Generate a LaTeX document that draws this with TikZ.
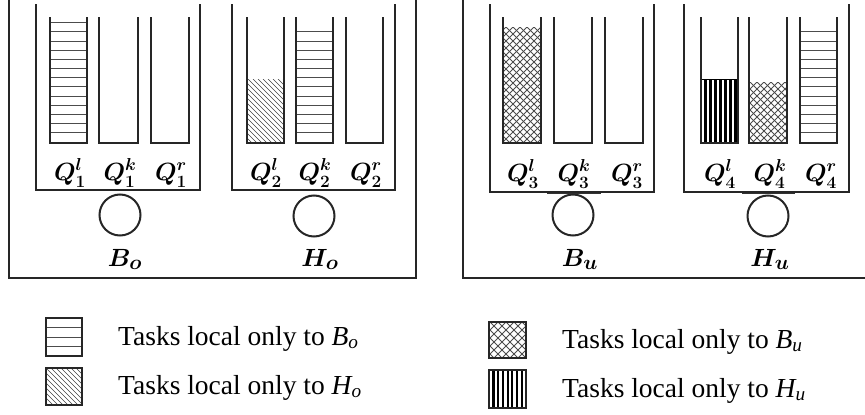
\documentclass[tikz,border=0pt]{standalone}
\usepackage{amsmath}
\usepackage{fontspec}
\setmainfont{Liberation Serif}
\newcommand{\drawqueue}[2]{\draw[wall] (#1,17) -- (#1,143) -- (#2,143) -- (#2,17);}
\newcommand{\hlinesfill}[4]{% x1 x2 first-y count
  \foreach \k in {1,...,#4} {\draw[hline] (#1,{#3+(\k-1)*9.17}) -- (#2,{#3+(\k-1)*9.17});}}
\begin{document}
\begin{tikzpicture}[x=1pt,y=-1pt,
  wall/.style={line width=2pt, draw=black!85},
  frame/.style={line width=2.3pt, draw=black!85},
  qlab/.style={font=\fontsize{25}{27}\selectfont\boldmath, inner sep=0pt, anchor=base},
  plab/.style={font=\fontsize{29}{31}\selectfont\boldmath, inner sep=0pt, anchor=base},
  proc/.style={circle, draw=black!85, line width=2pt, minimum size=41pt, inner sep=0pt},
  legtext/.style={font=\fontsize{27.5}{30}\selectfont, anchor=base west, inner sep=0pt},
  legbox/.style={line width=2.8pt, draw=black!85},
  hline/.style={line width=1pt, draw=black!70},
  dline/.style={line width=0.7pt, draw=black!75},
  xline/.style={line width=0.9pt, draw=black!70},
  vline/.style={line width=2.2pt, draw=black}]
\useasboundingbox (0,0) rectangle (865,415);
\clip (0,0) rectangle (865,415);

% outer frames
\draw[frame] (9,-10) -- (9,278) -- (416,278) -- (416,-10);
\draw[frame] (463,-10) -- (463,278) -- (880,278);

% inner group boxes
\draw[wall] (36,4) -- (36,190) -- (200,190) -- (200,4);
\draw[wall] (232,4) -- (232,190) -- (395,190) -- (395,4);
\draw[wall] (490,4) -- (490,192) -- (654,192) -- (654,4);
\draw[wall] (684,4) -- (684,192) -- (849,192) -- (849,4);
\draw[line width=1.2pt, draw=black!80] (547,193.5) -- (601,193.5);
\draw[line width=1.2pt, draw=black!80] (742,193.5) -- (795,193.5);

% fills
\hlinesfill{50}{87}{22.7}{13}
\hlinesfill{296}{333}{31.87}{12}
\hlinesfill{800}{837}{31.87}{12}
\begin{scope}
  \clip (248,79) rectangle (283,143);
  \foreach \s in {178,183,...,288} {\draw[dline] (\s,79) -- ++(70,70);}
\end{scope}
\begin{scope}
  \clip (503,27) rectangle (541,143);
  \foreach \s in {380,387,...,670} {\draw[xline] (\s,27) -- ++(125,125); \draw[xline] (\s,27) -- ++(-125,125);}
\end{scope}
\begin{scope}
  \clip (749,82) rectangle (787,143);
  \foreach \s in {680,687,...,860} {\draw[xline] (\s,82) -- ++(70,70); \draw[xline] (\s,82) -- ++(-70,70);}
\end{scope}
\foreach \x in {705.5,710.5,...,736} {\draw[vline] (\x,79) -- (\x,143);}
\draw[line width=1pt, draw=black] (701,79) -- (738,79);

% queues
\drawqueue{50}{87}
\drawqueue{99}{138}
\drawqueue{151}{189}
\drawqueue{247}{284}
\drawqueue{296}{333}
\drawqueue{346}{383}
\drawqueue{503}{541}
\drawqueue{554}{592}
\drawqueue{605}{643}
\drawqueue{701}{738}
\drawqueue{749}{787}
\drawqueue{800}{837}

% queue labels
\node[qlab] (q1l) at (70,180) {$Q_1^l$};
\node[qlab] (q1k) at (120,180) {$Q_1^k$};
\node[qlab] (q1r) at (171,180) {$Q_1^r$};
\node[qlab] (q2l) at (266,180) {$Q_2^l$};
\node[qlab] (q2k) at (315,180) {$Q_2^k$};
\node[qlab] (q2r) at (366,180) {$Q_2^r$};
\node[qlab] (q3l) at (523,181) {$Q_3^l$};
\node[qlab] (q3k) at (574,181) {$Q_3^k$};
\node[qlab] (q3r) at (627,181) {$Q_3^r$};
\node[qlab] (q4l) at (720,181) {$Q_4^l$};
\node[qlab] (q4k) at (770,181) {$Q_4^k$};
\node[qlab] (q4r) at (821,181) {$Q_4^r$};

% processors
\node[proc] (c1) at (120,215) {};
\node[proc] (c2) at (314,216) {};
\node[proc] (c3) at (573,215) {};
\node[proc] (c4) at (768,216) {};
\node[plab] (bo) at (125,266) {$B_o$};
\node[plab] (ho) at (320,266) {$H_o$};
\node[plab] (bu) at (580,266) {$B_u$};
\node[plab] (hu) at (770,266) {$H_u$};

% legend
\draw[legbox] (46,318) rectangle (82,356);
\foreach \y in {327.5,337,346.5} {\draw[hline] (47,\y) -- (81,\y);}
\begin{scope}
  \clip (46,368) rectangle (82,405);
  \foreach \s in {6,11,...,86} {\draw[dline] (\s,368) -- ++(40,40);}
\end{scope}
\draw[legbox] (46,368) rectangle (82,405);
\begin{scope}
  \clip (489,322) rectangle (526,358);
  \foreach \s in {450,458,...,570} {\draw[xline] (\s,322) -- ++(40,40); \draw[xline] (\s,322) -- ++(-40,40);}
\end{scope}
\draw[legbox] (489,322) rectangle (526,358);
\foreach \x in {493.5,498.2,...,523} {\draw[vline] (\x,370) -- (\x,408);}
\draw[legbox] (489,370) rectangle (526,408);

\node[legtext] (t1) at (118,345) {Tasks local only to $\textit{B}_{\textit{o}}$};
\node[legtext] (t2) at (118,394) {Tasks local only to $\textit{H}_{\textit{o}}$};
\node[legtext] (t3) at (562,348) {Tasks local only to $\textit{B}_{\textit{u}}$};
\node[legtext] (t4) at (562,397) {Tasks local only to $\textit{H}_{\textit{u}}$};
\end{tikzpicture}
\end{document}
